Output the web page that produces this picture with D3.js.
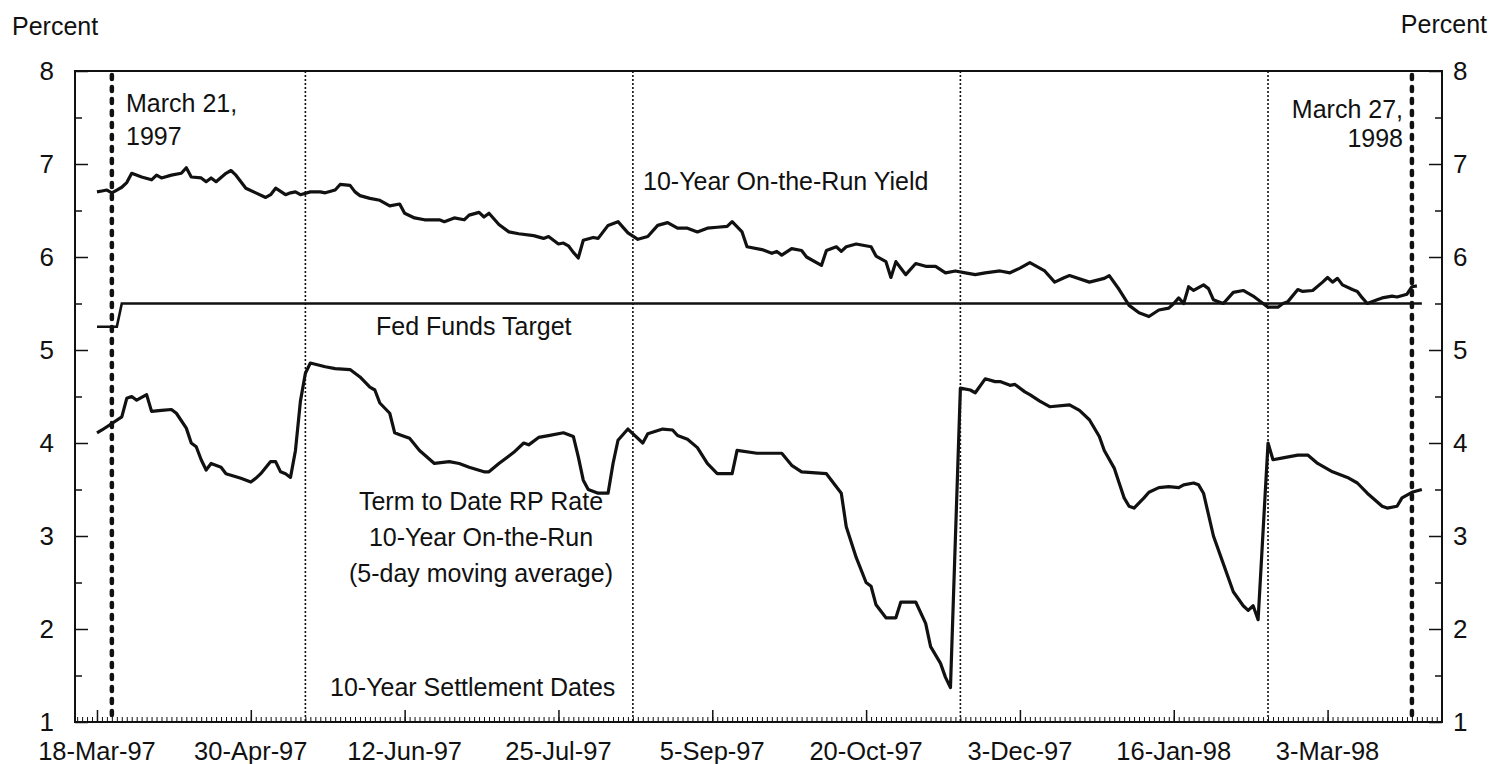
<!DOCTYPE html>
<html>
<head>
<meta charset="utf-8">
<script src="https://cdn.jsdelivr.net/npm/d3@7"></script>
<style>
  body { margin: 0; background: #fff; }
  svg { display: block; font-family: "Liberation Sans", Arial, Helvetica, sans-serif; }
  text { fill: #111; }
</style>
</head>
<body>
<div id="chart"></div>
<script>
// x values are business days counted from 18-Mar-97
const tickLabels = ["18-Mar-97", "30-Apr-97", "12-Jun-97", "25-Jul-97", "5-Sep-97",
  "20-Oct-97", "3-Dec-97", "16-Jan-98", "3-Mar-98"];
const tickDays = [0, 31, 62, 93, 124, 155, 186, 217, 248];

// 10-year settlement dates (thin dotted lines)
const settlementDays = [42, 108, 174, 236];
// March 21, 1997 and March 27, 1998 (thick dashed lines)
const eventDays = [3, 265];

const fedFunds = [[0, 5.25], [4, 5.25], [5, 5.5], [267, 5.5]];

const yield10 = [
  [0, 6.70], [1, 6.71], [2, 6.72], [3, 6.69], [4, 6.72], [5, 6.75], [6, 6.80], [7, 6.90],
  [9, 6.86], [11, 6.83], [12, 6.88], [13, 6.85], [15, 6.88], [17, 6.90], [18, 6.96], [19, 6.86],
  [21, 6.85], [22, 6.81], [23, 6.85], [24, 6.81], [26, 6.90], [27, 6.93], [28, 6.88], [30, 6.74],
  [32, 6.69], [34, 6.64], [35, 6.67], [36, 6.74], [38, 6.67], [39, 6.69], [40, 6.70], [41, 6.67],
  [43, 6.70], [45, 6.70], [46, 6.69], [48, 6.72], [49, 6.78], [51, 6.77], [52, 6.70], [53, 6.66],
  [55, 6.63], [57, 6.61], [59, 6.55], [61, 6.57], [62, 6.47], [64, 6.42], [66, 6.40], [69, 6.40],
  [70, 6.38], [72, 6.42], [74, 6.40], [75, 6.45], [77, 6.48], [78, 6.43], [79, 6.47], [81, 6.35],
  [83, 6.27], [85, 6.25], [88, 6.23], [90, 6.20], [91, 6.22], [93, 6.14], [94, 6.15], [95, 6.12],
  [96, 6.05], [97, 5.99], [98, 6.18], [100, 6.21], [101, 6.20], [103, 6.34], [105, 6.38], [107, 6.26],
  [109, 6.19], [111, 6.22], [113, 6.34], [115, 6.37], [117, 6.31], [119, 6.31], [121, 6.27], [123, 6.31],
  [125, 6.32], [127, 6.33], [128, 6.38], [130, 6.27], [131, 6.11], [134, 6.08], [136, 6.04], [137, 6.06],
  [138, 6.02], [140, 6.09], [142, 6.07], [143, 6.00], [146, 5.91], [147, 6.07], [149, 6.11], [150, 6.06],
  [151, 6.11], [153, 6.14], [156, 6.11], [157, 6.01], [159, 5.95], [160, 5.78], [161, 5.95], [162, 5.88],
  [163, 5.81], [165, 5.93], [167, 5.90], [169, 5.90], [171, 5.83], [173, 5.85], [175, 5.83], [177, 5.81],
  [179, 5.83], [182, 5.85], [184, 5.83], [186, 5.88], [188, 5.94], [191, 5.85], [193, 5.73], [195, 5.78],
  [196, 5.80], [200, 5.73], [203, 5.77], [204, 5.80], [206, 5.65], [208, 5.48], [210, 5.40], [212, 5.36],
  [214, 5.43], [216, 5.45], [217, 5.50], [218, 5.56], [219, 5.50], [220, 5.68], [221, 5.64], [223, 5.70],
  [224, 5.66], [225, 5.54], [226, 5.52], [227, 5.50], [229, 5.62], [231, 5.64], [233, 5.58], [235, 5.50],
  [236, 5.46], [238, 5.46], [239, 5.50], [240, 5.52], [242, 5.65], [243, 5.63], [245, 5.64], [247, 5.73],
  [248, 5.78], [249, 5.73], [250, 5.77], [251, 5.70], [253, 5.65], [254, 5.63], [255, 5.56], [256, 5.50],
  [258, 5.54], [259, 5.56], [261, 5.58], [262, 5.57], [264, 5.60], [265, 5.68], [266, 5.69]
];

// term RP rate, 5-day moving average
const rpRate = [
  [0, 4.11], [1, 4.14], [3, 4.21], [5, 4.28], [6, 4.48], [7, 4.50], [8, 4.46], [10, 4.52],
  [11, 4.34], [13, 4.35], [15, 4.36], [16, 4.32], [18, 4.16], [19, 4.00], [20, 3.96], [21, 3.82],
  [22, 3.71], [23, 3.78], [25, 3.74], [26, 3.67], [29, 3.62], [31, 3.58], [32, 3.62], [33, 3.67],
  [35, 3.80], [36, 3.80], [37, 3.69], [38, 3.67], [39, 3.63], [40, 3.92], [41, 4.45], [42, 4.75],
  [43, 4.86], [46, 4.82], [48, 4.80], [51, 4.79], [53, 4.71], [55, 4.60], [56, 4.57], [57, 4.43],
  [59, 4.32], [60, 4.11], [61, 4.09], [63, 4.05], [65, 3.92], [68, 3.78], [71, 3.80], [73, 3.78],
  [75, 3.74], [78, 3.69], [79, 3.69], [81, 3.78], [84, 3.90], [86, 4.00], [87, 3.98], [89, 4.06],
  [91, 4.08], [94, 4.11], [96, 4.07], [97, 3.85], [98, 3.60], [99, 3.50], [101, 3.46], [103, 3.46],
  [104, 3.78], [105, 4.03], [107, 4.15], [110, 4.00], [111, 4.10], [114, 4.15], [116, 4.14], [117, 4.08],
  [119, 4.04], [121, 3.95], [123, 3.78], [125, 3.67], [128, 3.67], [129, 3.92], [133, 3.89], [138, 3.89],
  [140, 3.76], [142, 3.69], [147, 3.67], [150, 3.46], [151, 3.10], [153, 2.77], [155, 2.50], [156, 2.46],
  [157, 2.26], [159, 2.12], [161, 2.12], [162, 2.29], [165, 2.29], [167, 2.06], [168, 1.81], [170, 1.63],
  [171, 1.48], [172, 1.37], [174, 4.59], [176, 4.57], [177, 4.54], [179, 4.69], [181, 4.66], [182, 4.66],
  [184, 4.62], [185, 4.63], [187, 4.55], [188, 4.52], [190, 4.45], [192, 4.39], [196, 4.41], [198, 4.35],
  [200, 4.25], [202, 4.07], [203, 3.92], [205, 3.73], [206, 3.57], [207, 3.41], [208, 3.32], [209, 3.30],
  [211, 3.41], [212, 3.47], [214, 3.52], [216, 3.53], [218, 3.52], [219, 3.55], [221, 3.57], [222, 3.55],
  [223, 3.46], [225, 3.00], [227, 2.70], [229, 2.40], [231, 2.25], [232, 2.20], [233, 2.25], [234, 2.10],
  [236, 4.00], [237, 3.82], [239, 3.84], [242, 3.87], [244, 3.87], [246, 3.78], [249, 3.69], [252, 3.63],
  [254, 3.57], [256, 3.46], [259, 3.32], [260, 3.30], [262, 3.32], [263, 3.41], [265, 3.47], [267, 3.50]
];

const width = 1490;
const height = 764;
const margin = { top: 71, right: 48, bottom: 42, left: 75 };

const svg = d3.select("#chart")
  .append("svg")
  .attr("width", width)
  .attr("height", height);

const x = d3.scaleLinear()
  .domain([-4.43, 271.06])
  .range([margin.left, width - margin.right]);

const y = d3.scaleLinear()
  .domain([1, 8])
  .range([height - margin.bottom, margin.top]);

const x0 = x.range()[0], x1 = x.range()[1];
const yTop = y(8), yBot = y(1);

// vertical reference lines
svg.append("g")
  .selectAll("line")
  .data(settlementDays)
  .join("line")
  .attr("x1", (d) => x(d)).attr("x2", (d) => x(d))
  .attr("y1", yTop).attr("y2", yBot)
  .attr("stroke", "#111")
  .attr("stroke-width", 1.6)
  .attr("stroke-dasharray", "2,2");

svg.append("g")
  .selectAll("line")
  .data(eventDays)
  .join("line")
  .attr("x1", (d) => x(d)).attr("x2", (d) => x(d))
  .attr("y1", yTop + 4).attr("y2", yBot)
  .attr("stroke", "#111")
  .attr("stroke-width", 4.5)
  .attr("stroke-linecap", "round")
  .attr("stroke-dasharray", "4,8");

// series
const line = d3.line()
  .x((d) => x(d[0]))
  .y((d) => y(d[1]));

svg.append("path")
  .datum(fedFunds)
  .attr("fill", "none")
  .attr("stroke", "#111")
  .attr("stroke-width", 2.6)
  .attr("d", line);

[yield10, rpRate].forEach((series) => {
  svg.append("path")
    .datum(series)
    .attr("fill", "none")
    .attr("stroke", "#111")
    .attr("stroke-width", 3.2)
    .attr("stroke-linejoin", "round")
    .attr("d", line);
});

// frame
svg.append("rect")
  .attr("x", x0).attr("y", yTop)
  .attr("width", x1 - x0).attr("height", yBot - yTop)
  .attr("fill", "none")
  .attr("stroke", "#111")
  .attr("stroke-width", 2);

// y axes (ticks inside the frame)
const yMajor = d3.range(1, 9);
const yMinor = d3.range(1.5, 8, 1);

const leftAxis = d3.axisRight(y).tickValues(yMajor).tickSize(13).tickFormat("");
const rightAxis = d3.axisLeft(y).tickValues(yMajor).tickSize(13).tickFormat("");
svg.append("g").attr("transform", `translate(${x0},0)`).call(leftAxis)
  .call((g) => g.select(".domain").remove());
svg.append("g").attr("transform", `translate(${x1},0)`).call(rightAxis)
  .call((g) => g.select(".domain").remove());
svg.append("g").attr("transform", `translate(${x0},0)`)
  .call(d3.axisRight(y).tickValues(yMinor).tickSize(7).tickFormat(""))
  .call((g) => g.select(".domain").remove());
svg.append("g").attr("transform", `translate(${x1},0)`)
  .call(d3.axisLeft(y).tickValues(yMinor).tickSize(7).tickFormat(""))
  .call((g) => g.select(".domain").remove());
svg.selectAll(".tick line").attr("stroke", "#111").attr("stroke-width", 1.5);

svg.append("g")
  .selectAll("text")
  .data(yMajor)
  .join("text")
  .attr("x", x0 - 21)
  .attr("y", (d) => y(d))
  .attr("dy", "0.33em")
  .attr("text-anchor", "end")
  .attr("font-size", 26)
  .text((d) => d);

svg.append("g")
  .selectAll("text")
  .data(yMajor)
  .join("text")
  .attr("x", x1 + 11)
  .attr("y", (d) => y(d))
  .attr("dy", "0.36em")
  .attr("font-size", 26)
  .text((d) => d);

// x axis: a small tick each business day, labelled ticks every 31 days
const minorDays = d3.range(-4, 272);
svg.append("g")
  .attr("transform", `translate(0,${yBot})`)
  .call(d3.axisTop(x).tickValues(minorDays).tickSize(5).tickFormat(""))
  .call((g) => g.select(".domain").remove())
  .selectAll(".tick line").attr("stroke", "#111").attr("stroke-width", 1);

svg.append("g")
  .attr("transform", `translate(0,${yBot})`)
  .call(d3.axisTop(x).tickValues(tickDays).tickSize(12).tickFormat(""))
  .call((g) => g.select(".domain").remove())
  .selectAll(".tick line").attr("stroke", "#111").attr("stroke-width", 1.5);

svg.append("g")
  .selectAll("text")
  .data(tickDays)
  .join("text")
  .attr("x", (d) => x(d))
  .attr("y", yBot + 38)
  .attr("text-anchor", "middle")
  .attr("font-size", 25.5)
  .text((d, i) => tickLabels[i]);

// titles and annotations
svg.append("text").attr("x", 12).attr("y", 35).attr("font-size", 25).text("Percent");
svg.append("text").attr("x", width - 3).attr("y", 33).attr("text-anchor", "end")
  .attr("font-size", 25).text("Percent");

const notes = [
  { text: "March 21,", x: 126, y: 112, anchor: "start" },
  { text: "1997", x: 126, y: 145, anchor: "start" },
  { text: "March 27,", x: 1403, y: 118, anchor: "end" },
  { text: "1998", x: 1403, y: 147, anchor: "end" },
  { text: "10-Year On-the-Run Yield", x: 643, y: 190, anchor: "start" },
  { text: "Fed Funds Target", x: 376, y: 335, anchor: "start" },
  { text: "Term to Date RP Rate", x: 481, y: 510, anchor: "middle" },
  { text: "10-Year On-the-Run", x: 481, y: 546, anchor: "middle" },
  { text: "(5-day moving average)", x: 481, y: 582, anchor: "middle" },
  { text: "10-Year Settlement Dates", x: 330, y: 696, anchor: "start" }
];

svg.append("g")
  .selectAll("text")
  .data(notes)
  .join("text")
  .attr("x", (d) => d.x)
  .attr("y", (d) => d.y)
  .attr("text-anchor", (d) => d.anchor)
  .attr("font-size", 25)
  .text((d) => d.text);
</script>
</body>
</html>
